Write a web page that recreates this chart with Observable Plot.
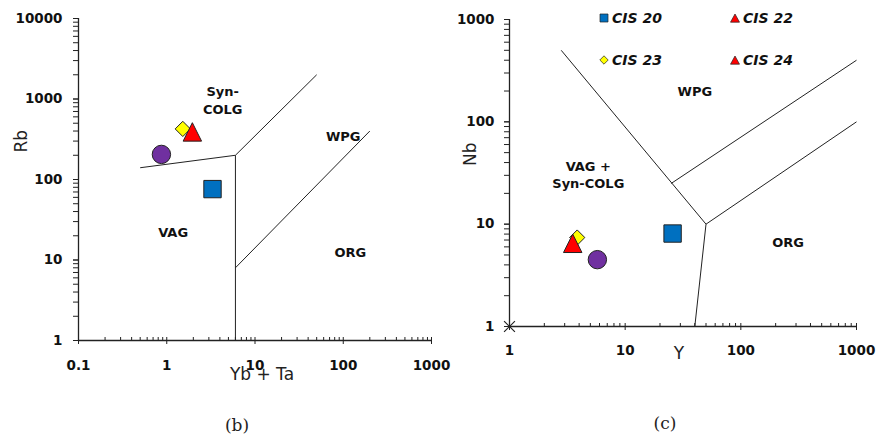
<!DOCTYPE html>
<html><head><meta charset="utf-8">
<script src="https://cdn.jsdelivr.net/npm/d3@7"></script>
<script src="https://cdn.jsdelivr.net/npm/@observablehq/plot@0.6"></script>
<style>
body{margin:0;background:#fff;}
#wrap{position:relative;width:880px;height:439px;overflow:hidden;background:#fff;}
.panel{position:absolute;top:0;width:440px;}
.cap{position:absolute;font-family:"DejaVu Serif",serif;font-size:17px;color:#222;transform:translate(-50%,-50%);}
.leg{position:absolute;font:italic bold 14px "DejaVu Sans",sans-serif;color:#111;transform:translateY(-50%);display:flex;align-items:center;white-space:nowrap;}
.leg svg{margin-right:3px;}
#wrap g[aria-label="x-axis tick label"], #wrap g[aria-label="y-axis tick label"]{font-size:13.5px;font-weight:bold;}
</style></head><body>
<div id="wrap">
  <div class="panel" id="pb" style="left:0"></div>
  <div class="panel" id="pc" style="left:440px"></div>
  <div class="cap" style="left:237px;top:425px">(b)</div>
  <div class="cap" style="left:665px;top:423px">(c)</div>
  <div id="legend"></div>
</div>
<script>
// ---------- data ----------
const samples = ["CIS 20", "CIS 22", "CIS 23", "CIS 24"];
const fills = ["#0070C0", "#FF0000", "#FFFF00", "#7030A0"];
const pointShapes = ["square", "triangle", "diamond", "circle"];
const pointR = [9.8, 10.4, 8.6, 9.2];
// panel (b): Rb vs Yb + Ta
const ybTa = [3.3, 1.95, 1.52, 0.87];
const rbB = [76, 390, 425, 205];
// panel (c): Nb vs Y
const yC = [25.7, 3.52, 3.85, 5.75];
const nbC = [8.1, 6.5, 7.4, 4.5];
// draw order (triangle in front of diamond)
const drawOrder = [3, 0, 2, 1];

// legend
const legendLabels = ["CIS 20", "CIS 22", "CIS 23", "CIS 24"];
const legendShapes = ["square", "triangle", "diamond", "triangle"];
const legendFills = ["#0070C0", "#FF0000", "#FFFF00", "#FF0000"];

// boundary segments (b)
const segB_x1 = [0.5, 6, 6, 6];
const segB_y1 = [140, 200, 1, 8];
const segB_x2 = [6, 50, 6, 200];
const segB_y2 = [200, 2000, 200, 400];
// boundary segments (c)
const segC_x1 = [2.8, 25, 50, 50];
const segC_y1 = [500, 25, 10, 10];
const segC_x2 = [50, 1000, 1000, 40];
const segC_y2 = [10, 400, 100, 1];

// field labels
const fieldB_text = ["Syn-\nCOLG", "WPG", "VAG", "ORG"];
const fieldB_x = [4.3, 100, 1.18, 120];
const fieldB_y = [1000, 356, 23, 12.7];
const fieldC_text = ["WPG", "VAG +\nSyn-COLG", "ORG"];
const fieldC_x = [40, 4.8, 256];
const fieldC_y = [204, 31, 6.8];

// tick labels
const ticksBx = [0.1, 1, 10, 100, 1000];
const ticksBy = [1, 10, 100, 1000, 10000];
const ticksCx = [1, 10, 100, 1000];
const ticksCy = [1, 10, 100, 1000];
const originMarkC = [{x: 1, y: 1}];

// ---------- helpers ----------
const symbols = {
  square: {draw(c, size) { const s = Math.sqrt(size) / 2; c.rect(-s, -s, 2 * s, 2 * s); }},
  triangle: {draw(c, size) { const s = Math.sqrt(size) / 2; c.moveTo(0, -s); c.lineTo(s, s); c.lineTo(-s, s); c.closePath(); }},
  diamond: {draw(c, size) { const s = Math.sqrt(size) / 2; c.moveTo(0, -s); c.lineTo(s, 0); c.lineTo(0, s); c.lineTo(-s, 0); c.closePath(); }},
  circle: "circle"
};
const minors = (lo, hi) => d3.scaleLog().domain([lo, hi]).ticks();
const pts = (xs, ys) => samples.map((s, i) => ({name: s, x: xs[i], y: ys[i], i}));
const segs = (x1, y1, x2, y2) => x1.map((d, i) => ({x1: d, y1: y1[i], x2: x2[i], y2: y2[i]}));
const fields = (t, x, y) => t.map((d, i) => ({t: d, x: x[i], y: y[i]}));

function pointMarks(data) {
  return drawOrder.map(i => Plot.dot([data[i]], {
    x: "x", y: "y", r: pointR[i], symbol: symbols[pointShapes[i]],
    fill: fills[i], stroke: "#222", strokeWidth: 1
  }));
}

function axisMarks(xd, yd, xt, yt, xpad, ypad) {
  return [
    Plot.axisY({ticks: minors(...yd), tickSize: 5, tickFormat: () => "", label: null, stroke: "#222"}),
    Plot.axisX({ticks: minors(...xd), tickSize: -3, tickFormat: () => "", label: null, stroke: "#222"}),
    Plot.axisX({ticks: xt, tickSize: 4, tickPadding: xpad, tickFormat: d => String(d), label: null, stroke: "#222",
      fontWeight: "bold", fill: "#111"}),
    Plot.axisY({ticks: yt, tickSize: 5, tickPadding: ypad, tickFormat: d => String(d), label: null, stroke: "#222",
      fontWeight: "bold", fill: "#111"}),
    Plot.ruleY([yd[0]], {stroke: "#222", strokeWidth: 1.3}),
    Plot.ruleX([xd[0]], {stroke: "#222", strokeWidth: 1.3})
  ];
}

const plotStyle = {overflow: "visible", fontFamily: "DejaVu Sans, sans-serif", background: "transparent"};

// ---------- panel (b) ----------
const pb = Plot.plot({
  width: 440, height: 400,
  marginLeft: 78, marginRight: 9, marginTop: 18, marginBottom: 60,
  x: {type: "log", domain: [0.1, 1000]},
  y: {type: "log", domain: [1, 10000]},
  style: plotStyle,
  marks: [
    ...axisMarks([0.1, 1000], [1, 10000], ticksBx, ticksBy, 16, 11),
    Plot.link(segs(segB_x1, segB_y1, segB_x2, segB_y2), {x1: "x1", y1: "y1", x2: "x2", y2: "y2", stroke: "#222", strokeWidth: 1}),
    Plot.text(fields(fieldB_text, fieldB_x, fieldB_y), {x: "x", y: "y", text: "t", fontWeight: "bold", fontSize: 13, lineHeight: 1.4, fill: "#111"}),
    ...pointMarks(pts(ybTa, rbB)),
    Plot.text(["Rb"], {frameAnchor: "left", dx: -57, dy: -27, rotate: -90, fontSize: 17, fill: "#222"}),
    Plot.text(["Yb + Ta"], {frameAnchor: "bottom", dx: 7, dy: 39, fontSize: 17, fill: "#222"})
  ]
});
document.getElementById("pb").append(pb);

// ---------- panel (c) ----------
const pc = Plot.plot({
  width: 440, height: 400,
  marginLeft: 69, marginRight: 24, marginTop: 19, marginBottom: 74,
  x: {type: "log", domain: [1, 1000]},
  y: {type: "log", domain: [1, 1000]},
  style: plotStyle,
  marks: [
    ...axisMarks([1, 1000], [1, 1000], ticksCx, ticksCy, 15, 10),
    Plot.link(segs(segC_x1, segC_y1, segC_x2, segC_y2), {x1: "x1", y1: "y1", x2: "x2", y2: "y2", stroke: "#222", strokeWidth: 1}),
    Plot.dot(originMarkC, {x: "x", y: "y", symbol: "times", r: 5, stroke: "#222", strokeWidth: 1.2}),
    Plot.text(fields(fieldC_text, fieldC_x, fieldC_y), {x: "x", y: "y", text: "t", fontWeight: "bold", fontSize: 13, lineHeight: 1.35, fill: "#111"}),
    ...pointMarks(pts(yC, nbC)),
    Plot.text(["Nb"], {frameAnchor: "left", dx: -39, dy: -7, rotate: -90, fontSize: 17, fill: "#222"}),
    Plot.text(["Y"], {frameAnchor: "bottom", dx: -4, dy: 32, fontSize: 17, fill: "#222"})
  ]
});
document.getElementById("pc").append(pc);

// ---------- legend ----------
const legPos = [[599, 18], [730, 18], [599, 60], [730, 60]];
const shapePath = {
  square: "M1,1H9V9H1Z",
  triangle: "M5,1L9.5,9.2H0.5Z",
  diamond: "M5,0.8L9.2,5L5,9.2L0.8,5Z"
};
const leg = document.getElementById("legend");
legendLabels.forEach((lab, i) => {
  const div = document.createElement("div");
  div.className = "leg";
  div.style.left = legPos[i][0] + "px";
  div.style.top = legPos[i][1] + "px";
  div.innerHTML = `<svg width="10" height="10" viewBox="0 0 10 10"><path d="${shapePath[legendShapes[i]]}" fill="${legendFills[i]}" stroke="#222" stroke-width="0.7"/></svg><span>${lab}</span>`;
  leg.append(div);
});
</script>
</body></html>
